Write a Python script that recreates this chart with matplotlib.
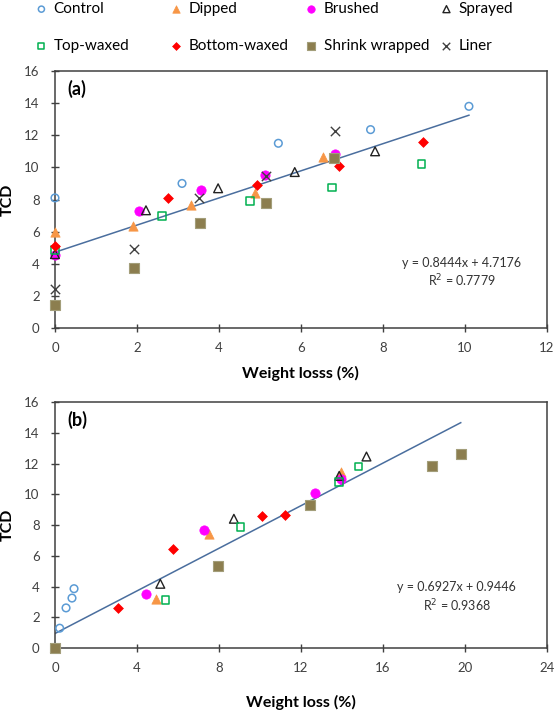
import matplotlib
matplotlib.use('Agg')
import matplotlib.pyplot as plt

plt.rcParams['font.family'] = ['Lato', 'DejaVu Sans']

# ---- panel (a): TCD vs weight loss ----
ctrl_a_x = [0, 3.1, 5.45, 7.7, 10.1]
ctrl_a_y = [8.1, 9.0, 11.5, 12.35, 13.8]
dip_a_x = [0, 1.9, 3.33, 4.88, 6.53]
dip_a_y = [6.0, 6.32, 7.68, 8.43, 10.62]
brush_a_x = [0, 2.06, 3.56, 5.12, 6.83]
brush_a_y = [4.55, 7.27, 8.6, 9.5, 10.85]
spray_a_x = [0, 2.22, 3.98, 5.85, 7.81]
spray_a_y = [4.6, 7.33, 8.7, 9.71, 11.0]
topw_a_x = [0, 2.61, 4.76, 6.76, 8.94]
topw_a_y = [4.84, 6.98, 7.89, 8.74, 10.2]
botw_a_x = [0, 2.76, 4.94, 6.92, 8.98]
botw_a_y = [5.13, 8.09, 8.88, 10.08, 11.61]
shrink_a_x = [0, 1.93, 3.53, 5.16, 6.81]
shrink_a_y = [1.43, 3.73, 6.52, 7.79, 10.6]
liner_a_x = [0, 1.94, 3.52, 5.16, 6.83]
liner_a_y = [2.4, 4.89, 8.09, 9.46, 12.24]
fit_a = (0.8444, 4.7176, 0.7779)

# ---- panel (b) ----
ctrl_b_x = [0.23, 0.54, 0.83, 0.93]
ctrl_b_y = [1.29, 2.61, 3.25, 3.86]
dip_b_x = [0, 4.94, 7.53, 12.44, 13.95]
dip_b_y = [0, 3.18, 7.39, 9.35, 11.42]
brush_b_x = [0, 4.45, 7.28, 12.67, 13.98]
brush_b_y = [0, 3.51, 7.65, 10.07, 10.98]
spray_b_x = [0, 5.14, 8.73, 13.87, 15.2]
spray_b_y = [0, 4.18, 8.41, 11.2, 12.46]
topw_b_x = [0, 5.4, 9.06, 13.85, 14.81]
topw_b_y = [0, 3.14, 7.86, 10.8, 11.81]
botw_b_x = [0, 3.09, 5.74, 10.08, 11.22]
botw_b_y = [0, 2.59, 6.47, 8.58, 8.65]
shrink_b_x = [0, 7.95, 12.44, 18.39, 19.8]
shrink_b_y = [0, 5.32, 9.28, 11.81, 12.64]
fit_b = (0.6927, 0.9446, 0.9368)

labels = ['Control', 'Dipped', 'Brushed', 'Sprayed',
          'Top-waxed', 'Bottom-waxed', 'Shrink wrapped', 'Liner']

# marker styles per series
styles = {
    'Control': dict(marker='o', s=30, facecolors='none', edgecolors='#5B9BD5', linewidths=1.1),
    'Dipped': dict(marker='^', s=45, facecolors='#F79646', edgecolors='#F79646', linewidths=0.5),
    'Brushed': dict(marker='o', s=45, facecolors='#FF00FF', edgecolors='#FF00FF', linewidths=0.5),
    'Sprayed': dict(marker='^', s=40, facecolors='none', edgecolors='#222222', linewidths=1.0),
    'Top-waxed': dict(marker='s', s=30, facecolors='none', edgecolors='#00B050', linewidths=1.1),
    'Bottom-waxed': dict(marker='D', s=25, facecolors='#FF0000', edgecolors='#FF0000', linewidths=0.5),
    'Shrink wrapped': dict(marker='s', s=50, facecolors='#8C7E4F', edgecolors='#A39E7A', linewidths=0.8),
    'Liner': dict(marker='x', s=45, color='#404040', linewidths=1.0),
}

data_a = {
    'Control': (ctrl_a_x, ctrl_a_y), 'Dipped': (dip_a_x, dip_a_y),
    'Brushed': (brush_a_x, brush_a_y), 'Sprayed': (spray_a_x, spray_a_y),
    'Top-waxed': (topw_a_x, topw_a_y), 'Bottom-waxed': (botw_a_x, botw_a_y),
    'Shrink wrapped': (shrink_a_x, shrink_a_y), 'Liner': (liner_a_x, liner_a_y),
}
data_b = {
    'Control': (ctrl_b_x, ctrl_b_y), 'Dipped': (dip_b_x, dip_b_y),
    'Brushed': (brush_b_x, brush_b_y), 'Sprayed': (spray_b_x, spray_b_y),
    'Top-waxed': (topw_b_x, topw_b_y), 'Bottom-waxed': (botw_b_x, botw_b_y),
    'Shrink wrapped': (shrink_b_x, shrink_b_y),
}

fig = plt.figure(figsize=(5.57, 7.17), dpi=100)
ax1 = fig.add_axes([0.0987, 0.5425, 0.883, 0.3585])
ax2 = fig.add_axes([0.0987, 0.0962, 0.883, 0.343])


def draw_panel(ax, data, fit, xmax, xstep, xlabel, tag, xpad, eqpos):
    handles = {}
    for name in labels:
        if name not in data:
            continue
        x, y = data[name]
        handles[name] = ax.scatter(x, y, label=name, zorder=3, clip_on=False, **styles[name])
    allx = [v for name in data for v in data[name][0]]
    x0, x1 = min(allx), max(allx)
    m, c, r2 = fit
    ax.plot([x0, x1], [m * x0 + c, m * x1 + c], color='#4A6E9E', lw=1.1, zorder=2)
    ax.set_xlim(0, xmax)
    ax.set_ylim(0, 16)
    ax.set_xticks(range(0, xmax + 1, xstep))
    ax.set_yticks(range(0, 17, 2))
    ax.tick_params(direction='inout', length=6, width=1, colors='#404040',
                   labelsize=9.5, labelcolor='#404040')
    ax.tick_params(axis='x', pad=7)
    ax.tick_params(axis='y', pad=8)
    for sp in ax.spines.values():
        sp.set_color('#404040')
        sp.set_linewidth(1.1)
    ax.set_xlabel(xlabel, fontsize=11.5, fontweight='bold', labelpad=xpad)
    ax.set_ylabel('TCD', fontsize=11.5, fontweight='bold', labelpad=7)
    ax.text(0.025, 0.965, tag, transform=ax.transAxes, fontsize=13,
            fontweight='bold', va='top', ha='left')
    ax.text(eqpos[0], eqpos[1], 'y = %.4fx + %.4f\nR$^2$ = %.4f' % (m, c, r2),
            transform=ax.transAxes, fontsize=9, ha='center', va='center',
            color='#333333', linespacing=1.3)
    return handles


h = draw_panel(ax1, data_a, fit_a, 12, 2, 'Weight losss (%)', '(a)', 9, (0.827, 0.214))
draw_panel(ax2, data_b, fit_b, 24, 4, 'Weight loss (%)', '(b)', 15, (0.817, 0.204))

# legend, 4 columns of 2 rows at the top
cols = [['Control', 'Top-waxed'], ['Dipped', 'Bottom-waxed'],
        ['Brushed', 'Shrink wrapped'], ['Sprayed', 'Liner']]
for i, col in enumerate(cols):
    fig.legend([h[n] for n in col], col, loc='upper left',
               bbox_to_anchor=(0.062 + i * 0.2424, 0.997), frameon=False,
               fontsize=11, handlelength=0.9, handletextpad=0.35,
               labelspacing=1.5, borderpad=0, borderaxespad=0,
               scatterpoints=1, markerscale=0.8)

fig.savefig('out.png', dpi=100)
